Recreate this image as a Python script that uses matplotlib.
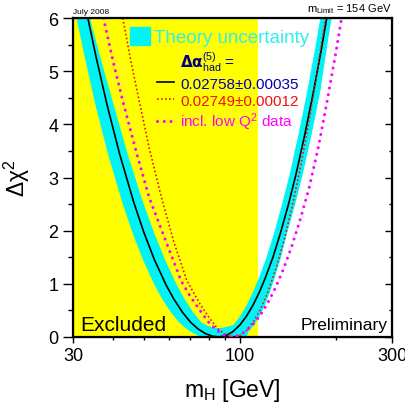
import matplotlib
matplotlib.use('Agg')
import matplotlib.pyplot as plt
from matplotlib.lines import Line2D
from matplotlib.patches import Patch
from matplotlib.ticker import FixedLocator, FixedFormatter, NullFormatter

plt.rcParams['font.family'] = ['Liberation Sans', 'DejaVu Sans']
plt.rcParams['mathtext.fontset'] = 'custom'
plt.rcParams['mathtext.rm'] = 'Liberation Sans'
plt.rcParams['mathtext.it'] = 'Liberation Sans:italic'

# --- values ---
lep_limit = 114.4          # direct search exclusion (GeV)
fit_limit = 154            # upper limit quoted top right

# solid black: 0.02758 +- 0.00035
black_mh = [32.5, 33.0, 35.5, 38.4, 42.0, 46.4, 50.0, 54.0, 58.7, 62.0, 66.0,
            70.0, 74.0, 78.0, 82.0, 86.0, 90.0, 95.0, 100.0, 105.0, 110.0,
            115.0, 120.0, 127.0, 134.0, 142.0, 150.0, 160.0, 170.0, 180.0, 190.0]
black_chi2 = [6.34, 6.14, 5.24, 4.35, 3.44, 2.55, 1.97, 1.45, 0.98, 0.72, 0.47,
              0.28, 0.15, 0.064, 0.015, 0.00, 0.02, 0.098, 0.225, 0.395, 0.60,
              0.836, 1.10, 1.50, 1.95, 2.49, 3.06, 3.82, 4.60, 5.40, 6.22]

# theory band: outer (lower) edge and inner (upper) edge
band_outer_mh = [29.9, 30.4, 32.7, 35.3, 38.6, 42.7, 46.0, 49.7, 54.0, 57.0,
                 60.7, 64.4, 68.1, 71.8, 74.5, 77.0, 105.0, 106.4, 111.0, 115.5,
                 119.9, 124.2, 128.4, 134.6, 140.7, 149.0, 157.5, 168.0, 178.5,
                 187.0, 196.6]
band_outer_chi2 = [6.34, 6.14, 5.24, 4.35, 3.44, 2.55, 1.97, 1.45, 0.98, 0.72,
                   0.47, 0.28, 0.15, 0.064, 0.015, 0.00, 0.00, 0.098, 0.225, 0.395,
                   0.60, 0.836, 1.10, 1.50, 1.95, 2.49, 3.06, 3.82, 4.60,
                   5.40, 6.22]
band_inner_mh = [32.8, 33.4, 36.6, 40.3, 44.5, 49.6, 53.8, 58.3, 63.4, 67.0,
                 71.3, 75.6, 80.0, 84.0, 88.0, 92.0, 95.5, 100.3, 105.1, 109.8,
                 114.6, 121.3, 128.0, 135.6, 143.3, 152.8, 162.4, 171.9, 181.5]
band_inner_chi2 = [6.34, 6.14, 5.24, 4.35, 3.44, 2.55, 1.97, 1.45, 0.98, 0.72,
                   0.47, 0.28, 0.20, 0.17, 0.17, 0.20, 0.225, 0.395, 0.60, 0.836,
                   1.10, 1.50, 1.95, 2.49, 3.06, 3.82, 4.60, 5.40, 6.22]

# red dotted: 0.02749 +- 0.00012
red_mh = [42.6, 43.0, 45.5, 48.4, 52.0, 56.6, 62.0, 68.2, 75.0, 80.0, 85.0,
          90.0, 95.4, 100.0, 105.0, 110.0, 116.0, 122.0, 130.0, 138.0, 146.0,
          155.0, 165.0, 175.0, 185.0, 188.0]
red_chi2 = [6.15, 5.98, 5.20, 4.43, 3.55, 2.66, 1.80, 1.06, 0.62, 0.37, 0.16,
            0.05, 0.00, 0.03, 0.125, 0.276, 0.52, 0.82, 1.30, 1.85, 2.46,
            3.20, 4.08, 5.00, 5.96, 6.25]

# magenta dots: incl. low Q2 data
mag_mh = [36.8, 37.2, 40.0, 43.0, 47.5, 52.0, 58.3, 65.5, 70.0, 75.0, 80.0,
          85.0, 89.0, 93.1, 98.0, 103.0, 109.0, 115.0, 121.0, 128.0, 136.0,
          145.0, 155.0, 165.0, 176.0, 188.0, 200.0, 208.7, 212.0]
mag_chi2 = [6.25, 6.05, 5.20, 4.43, 3.45, 2.62, 1.84, 1.05, 0.76, 0.50, 0.27,
            0.12, 0.04, 0.00, 0.022, 0.087, 0.213, 0.38, 0.59, 0.87, 1.23,
            1.68, 2.23, 2.81, 3.55, 4.45, 5.35, 6.02, 6.25]

x_major = [30, 100, 300]
x_major_labels = ['30', '100', '300']
x_minor = [40, 50, 60, 70, 80, 90, 200]
y_major = [0, 1, 2, 3, 4, 5, 6]
y_minor = [0.5, 1.5, 2.5, 3.5, 4.5, 5.5]

entry_labels = [r'$\mathbf{\Delta\alpha}^{(5)}_{\rm had}$ =', '0.02758\u00b10.00035',
                '0.02749\u00b10.00012', r'incl. low Q$^2$ data']

cyan = '#00f4f4'
yellow = '#ffff00'
red = '#ee1111'
magenta = '#ff00ff'

fig = plt.figure(figsize=(4.06, 4.06), dpi=100)
ax = fig.add_axes([0.18, 0.1675, 0.7855, 0.7855])

ax.axvspan(30, lep_limit, color=yellow, lw=0, zorder=0)

# band polygon: outer edge left->right, inner edge back right->left
ax.fill(band_outer_mh + band_inner_mh[::-1], band_outer_chi2 + band_inner_chi2[::-1],
        color=cyan, lw=0, zorder=1)

ax.plot(black_mh, black_chi2, color='black', lw=1.2, zorder=3)
ax.plot(red_mh, red_chi2, color=red, lw=1.2, linestyle=(0, (1, 1.4)), zorder=3)
ax.plot(mag_mh, mag_chi2, color=magenta, lw=2.2, linestyle=(0, (0.01, 2.2)),
        dash_capstyle='round', zorder=4)

ax.set_xscale('log')
ax.set_xlim(30, 300)
ax.set_ylim(0, 6)
ax.xaxis.set_major_locator(FixedLocator(x_major))
ax.xaxis.set_major_formatter(FixedFormatter(x_major_labels))
ax.xaxis.set_minor_locator(FixedLocator(x_minor))
ax.xaxis.set_minor_formatter(NullFormatter())
ax.yaxis.set_major_locator(FixedLocator(y_major))
ax.yaxis.set_minor_locator(FixedLocator(y_minor))

ax.tick_params(axis='both', which='both', labelsize=13, width=1, direction='out')
ax.tick_params(axis='y', which='major', length=7)
ax.tick_params(axis='y', which='minor', length=3.6)
ax.tick_params(axis='x', which='major', length=4)
ax.tick_params(axis='x', which='minor', length=2.5)
for s in ax.spines.values():
    s.set_linewidth(1.6)

# right side ticks point inwards
ax2 = ax.twinx()
ax2.set_ylim(0, 6)
ax2.yaxis.set_major_locator(FixedLocator(y_major))
ax2.yaxis.set_minor_locator(FixedLocator(y_minor))
ax2.tick_params(axis='y', which='both', direction='in', labelright=False, width=1)
ax2.tick_params(axis='y', which='major', length=5)
ax2.tick_params(axis='y', which='minor', length=2.5)

ax.set_xlabel(r'm$_{\rm H}$ [GeV]', fontsize=16.5, labelpad=8)
ax.set_ylabel('\u0394\u03c7$^{2}$', fontsize=16.5, labelpad=12)

ax.text(0.0, 1.01, 'July 2008', transform=ax.transAxes, fontsize=6, va='bottom')
ax.text(1.0, 1.01, r'm$_{\rm Limit}$ = %d GeV' % fit_limit, transform=ax.transAxes,
        fontsize=8, ha='right', va='bottom')
ax.text(0.022, 0.022, 'Excluded', transform=ax.transAxes, fontsize=15, zorder=5)
ax.text(0.985, 0.025, 'Preliminary', transform=ax.transAxes, fontsize=12.5,
        ha='right', zorder=5)

# legends
leg1 = ax.legend([Patch(color=cyan)], ['Theory uncertainty'], loc='upper left',
                 bbox_to_anchor=(0.125, 1.025), frameon=False, fontsize=13.5,
                 handlelength=1.1, handleheight=1.1, handletextpad=0.2,
                 labelcolor=['#33eeee'])
ax.add_artist(leg1)
handles = [Line2D([], [], lw=0),
           Line2D([], [], color='black', lw=1.2),
           Line2D([], [], color=red, lw=1.2, linestyle=(0, (1, 1.4))),
           Line2D([], [], color=magenta, lw=2.2, linestyle=(0, (0.01, 2.2)),
                  dash_capstyle='round')]
ax.legend(handles, entry_labels, loc='upper left', bbox_to_anchor=(0.22, 0.944),
          frameon=False, fontsize=11, handlelength=1.1, handletextpad=0.4,
          labelspacing=0.2, labelcolor=['#000080', '#0000b0', red, magenta])

fig.savefig('out.png', dpi=100)
